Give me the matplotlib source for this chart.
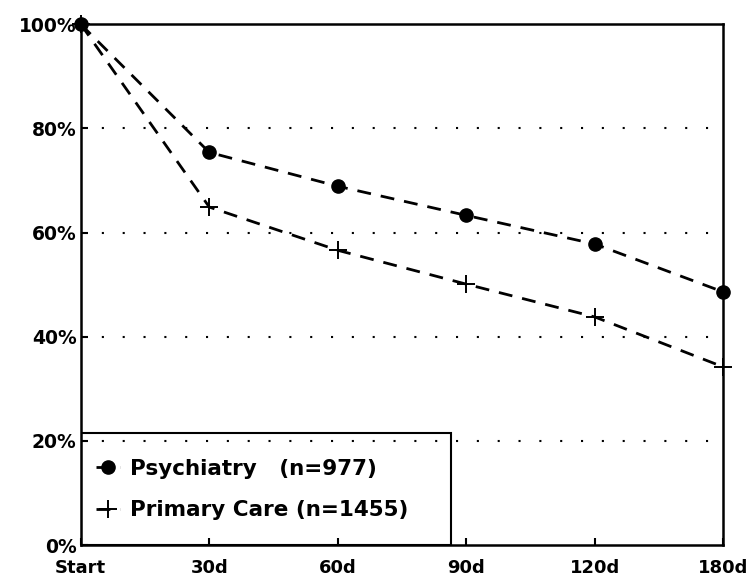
import matplotlib.pyplot as plt
from matplotlib.patches import Rectangle

# Values
categories = ["Start", "30d", "60d", "90d", "120d", "180d"]
psychiatry = [100, 75.4, 68.9, 63.3, 57.8, 48.6]
primaryCare = [100, 64.9, 56.6, 50.1, 43.8, 34.2]
yTicks = [0, 20, 40, 60, 80, 100]
yTickLabels = ["0%", "20%", "40%", "60%", "80%", "100%"]
gridValues = [20, 40, 60, 80]

plt.rcParams["font.family"] = "DejaVu Sans"
plt.rcParams["font.weight"] = "bold"

fig = plt.figure(figsize=(7.55, 5.78), dpi=100)
ax = fig.add_axes([0.107, 0.057, 0.851, 0.901])

xPoints = list(range(len(categories)))

# Dotted horizontal grid lines
for g in gridValues:
    ax.axhline(g, color="black", linewidth=1.5, dashes=(1, 9), zorder=1)

ax.plot(xPoints, psychiatry, color="black", linewidth=2.0, dashes=(5, 3.6),
        marker="o", markersize=9.5, label="Psychiatry   (n=977)", zorder=3, clip_on=False)
ax.plot(xPoints, primaryCare, color="black", linewidth=2.0, dashes=(5, 3.6),
        marker="+", markersize=13, markeredgewidth=1.4,
        label="Primary Care (n=1455)", zorder=3, clip_on=False)

ax.set_xlim(0, len(categories) - 1)
ax.set_ylim(0, 100)
ax.set_xticks(xPoints)
ax.set_xticklabels(categories, fontsize=13, fontweight="bold")
ax.set_yticks(yTicks)
ax.set_yticklabels(yTickLabels, fontsize=13.5, fontweight="bold")
ax.tick_params(direction="in", length=5, width=1.5, pad=3)
ax.tick_params(axis="x", pad=10)

for spine in ax.spines.values():
    spine.set_linewidth(1.8)

# Legend box sitting in the lower left corner
ax.add_patch(Rectangle((0, 0), 0.576, 0.215, transform=ax.transAxes,
                       fill=False, edgecolor="black", linewidth=1.5, zorder=4))
ax.legend(loc="center left", bbox_to_anchor=(0.0, 0.107), frameon=False,
          prop={"size": 15.5, "weight": "bold"}, handlelength=1.1,
          handletextpad=0.5, labelspacing=1.0, borderaxespad=0.3)

plt.savefig("out.png", dpi=100)
